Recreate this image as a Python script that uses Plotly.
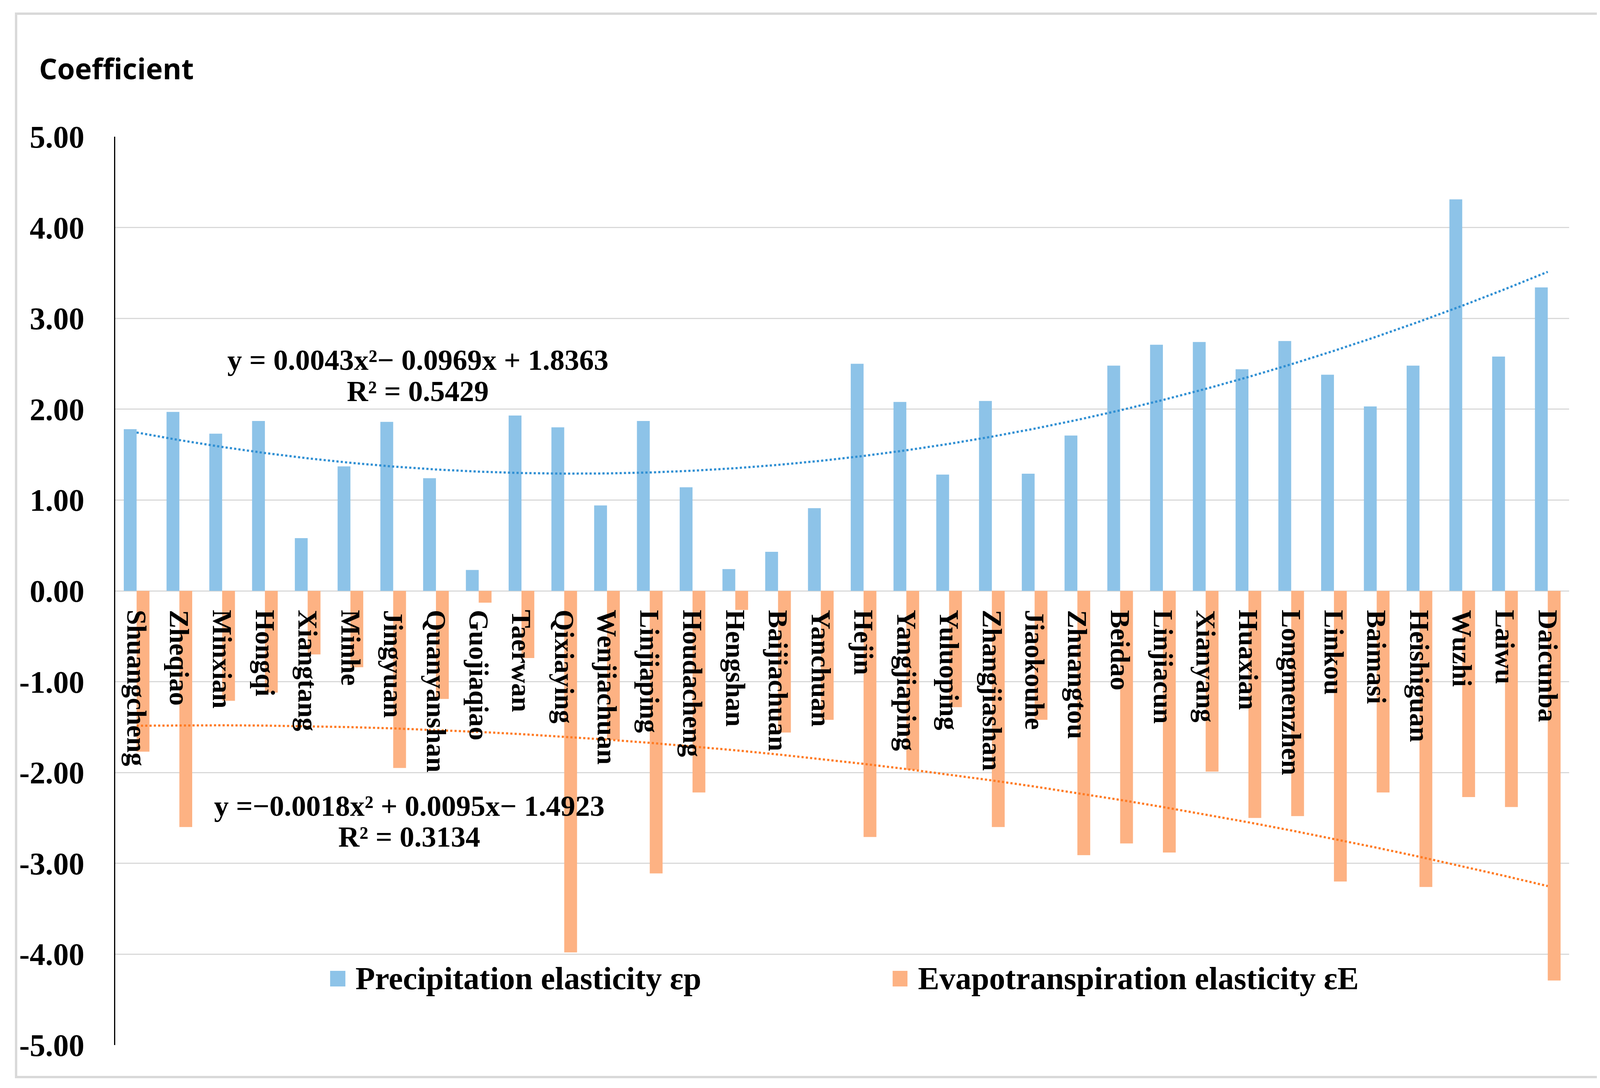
import plotly.graph_objects as go
import numpy as np

stations = ["Shuangcheng", "Zheqiao", "Minxian", "Hongqi", "Xiangtang", "Minhe", "Jingyuan",
            "Quanyanshan", "Guojiaqiao", "Taerwan", "Qixiaying", "Wenjiachuan", "Linjiaping",
            "Houdacheng", "Hengshan", "Baijiachuan", "Yanchuan", "Hejin", "Yangjiaping",
            "Yuluoping", "Zhangjiashan", "Jiaokouhe", "Zhuangtou", "Beidao", "Linjiacun",
            "Xianyang", "Huaxian", "Longmenzhen", "Linkou", "Baimasi", "Heishiguan", "Wuzhi",
            "Laiwu", "Daicunba"]

precip_elasticity = [1.78, 1.97, 1.73, 1.87, 0.58, 1.37, 1.86, 1.24, 0.23, 1.93, 1.80, 0.94, 1.87,
                     1.14, 0.24, 0.43, 0.91, 2.50, 2.08, 1.28, 2.09, 1.29, 1.71, 2.48, 2.71,
                     2.74, 2.44, 2.75, 2.38, 2.03, 2.48, 4.31, 2.58, 3.34]

evap_elasticity = [-1.77, -2.60, -1.21, -1.12, -0.70, -0.84, -1.95, -1.19, -0.13, -0.74, -3.98, -1.64, -3.11,
                   -2.22, -0.21, -1.56, -1.42, -2.71, -1.97, -1.28, -2.60, -1.42, -2.91, -2.78, -2.88,
                   -1.99, -2.50, -2.48, -3.20, -2.22, -3.26, -2.27, -2.38, -4.29]

# trendline coefficients as printed on the chart (x = station index 1..34)
precip_trend_coef = [0.0043, -0.0969, 1.8363]
evap_trend_coef = [-0.0018, 0.0095, -1.4923]

y_ticks = [5, 4, 3, 2, 1, 0, -1, -2, -3, -4, -5]

BLUE = "#8DC3E8"
ORANGE = "#FDB283"
SERIF = "Liberation Serif"
SANS = "Open Sans"

idx = np.arange(1, len(stations) + 1)
precip_trend = np.polyval(precip_trend_coef, idx)
evap_trend = np.polyval(evap_trend_coef, idx)

fig = go.Figure()
fig.add_trace(go.Bar(x=stations, y=precip_elasticity, name="Precipitation elasticity εp",
                     marker=dict(color=BLUE, line=dict(width=0))))
fig.add_trace(go.Bar(x=stations, y=evap_elasticity, name="Evapotranspiration elasticity εE",
                     marker=dict(color=ORANGE, line=dict(width=0))))
fig.add_trace(go.Scatter(x=stations, y=precip_trend, mode="lines",
                         line=dict(color="#2F8FD3", width=5.5, dash="dot"), showlegend=False))
fig.add_trace(go.Scatter(x=stations, y=evap_trend, mode="lines",
                         line=dict(color="#FF7A22", width=5.5, dash="dot"), showlegend=False))

annotations = []
for s in stations:
    annotations.append(dict(x=s, y=-0.2, xref="x", yref="y", text=s, showarrow=False,
                            textangle=90, xanchor="center", yanchor="top",
                            font=dict(family=SERIF, size=70, color="black", weight="bold")))

eq_font = dict(family=SERIF, size=75, color="black", weight="bold")
annotations += [
    dict(x=0.2082, y=0.7541, xref="paper", yref="paper", showarrow=False,
         text="y = 0.0043x²− 0.0969x + 1.8363", xanchor="center", yanchor="middle", font=eq_font),
    dict(x=0.2082, y=0.7201, xref="paper", yref="paper", showarrow=False,
         text="R² = 0.5429", xanchor="center", yanchor="middle", font=eq_font),
    dict(x=0.2023, y=0.2635, xref="paper", yref="paper", showarrow=False,
         text="y =−0.0018x² + 0.0095x− 1.4923", xanchor="center", yanchor="middle", font=eq_font),
    dict(x=0.2023, y=0.2292, xref="paper", yref="paper", showarrow=False,
         text="R² = 0.3134", xanchor="center", yanchor="middle", font=eq_font),
    dict(x=-0.0529, y=1.0755, xref="paper", yref="paper", showarrow=False,
         text="Coefficient", xanchor="left", yanchor="middle",
         font=dict(family=SANS, size=73, color="black", weight="bold")),
]

leg_font = dict(family=SERIF, size=82, color="black", weight="bold")
annotations += [
    dict(x=0.1647, y=0.0731, xref="paper", yref="paper", showarrow=False,
         text="Precipitation elasticity εp", xanchor="left", yanchor="middle", font=leg_font),
    dict(x=0.5516, y=0.0731, xref="paper", yref="paper", showarrow=False,
         text="Evapotranspiration elasticity εE", xanchor="left", yanchor="middle", font=leg_font),
]

shapes = [
    dict(type="rect", xref="paper", yref="paper", x0=-0.0682, x1=1.0669, y0=-0.0353, y1=1.1354,
         line=dict(color="#D9D9D9", width=6), fillcolor="rgba(0,0,0,0)", layer="below"),
    dict(type="rect", xref="paper", yref="paper", x0=0.1478, x1=0.1583, y0=0.0645, y1=0.0817,
         line=dict(width=0), fillcolor=BLUE),
    dict(type="rect", xref="paper", yref="paper", x0=0.5347, x1=0.5449, y0=0.0645, y1=0.0817,
         line=dict(width=0), fillcolor=ORANGE),
]

fig.update_layout(
    width=4291, height=2786,
    margin=dict(l=287, r=282, t=342, b=118),
    paper_bgcolor="white", plot_bgcolor="white",
    barmode="group", bargap=0.4, bargroupgap=0,
    showlegend=False,
    annotations=annotations,
    shapes=shapes,
    xaxis=dict(type="category", range=[-0.5, len(stations) - 0.5], showticklabels=False,
               showgrid=False, zeroline=False, showline=False, ticks=""),
    yaxis=dict(range=[-5, 5], tickvals=y_ticks, ticktext=[f"{v:.2f}" for v in y_ticks],
               showgrid=True, gridcolor="#D9D9D9", gridwidth=3, zeroline=False,
               showline=True, linecolor="black", linewidth=3, ticks="",
               ticklabelstandoff=60,
               tickfont=dict(family=SERIF, size=80, color="black", weight="bold")),
)

fig.write_html("out.html")
